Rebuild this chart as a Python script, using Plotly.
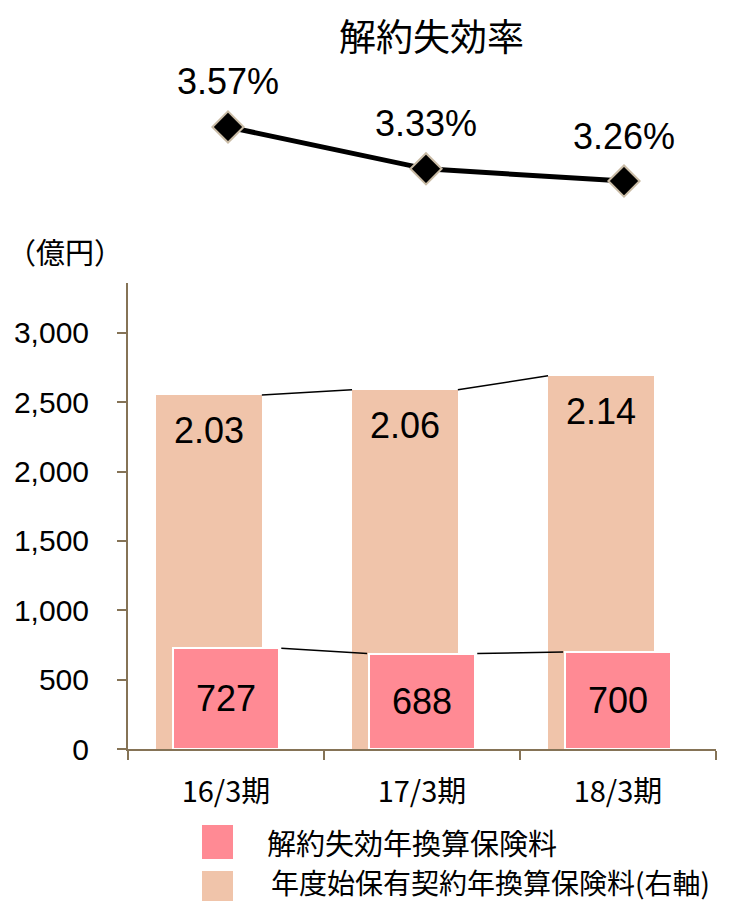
import plotly.graph_objects as go

# ---- data ----
categories = ["16/3期", "17/3期", "18/3期"]
lapse_premium = [727, 688, 700]            # 解約失効年換算保険料 (億円, left axis)
inforce_premium = [2.03, 2.06, 2.14]       # 年度始保有契約年換算保険料 (兆円, right axis)
lapse_rate = [3.57, 3.33, 3.26]            # 解約失効率 (%)
y_ticks = [0, 500, 1000, 1500, 2000, 2500, 3000]
legend_labels = ["解約失効年換算保険料", "年度始保有契約年換算保険料(右軸)"]

PAGE_OFF = 8           # default body margin of the html page
W, H = 738 - PAGE_OFF, 901 - PAGE_OFF
FONT = "Arial, 'Liberation Sans', 'Noto Sans CJK JP', sans-serif"
JFONT = "'Noto Sans CJK JP', Arial, sans-serif"
AXIS_COLOR = "#857356"
PINK = "#FF8A94"
BEIGE = "#F0C4AA"

def fx(px):
    return (px - PAGE_OFF) / W

def fy(py):
    return 1 - (py - PAGE_OFF) / H

xs = list(range(len(categories)))
BAR_W = 0.54
PINK_OFF = -BAR_W / 2
BEIGE_OFF = -BAR_W / 2 - 0.087

fig = go.Figure()

# beige bars (right axis, hidden base axis "y")
fig.add_trace(go.Bar(
    x=xs, y=inforce_premium, width=BAR_W, offset=BEIGE_OFF,
    marker=dict(color=BEIGE, line=dict(width=0)),
    xaxis="x", yaxis="y", showlegend=False, hoverinfo="skip",
))
# pink bars (left axis "y2", drawn above)
fig.add_trace(go.Bar(
    x=xs, y=lapse_premium, width=BAR_W, offset=PINK_OFF,
    marker=dict(color=PINK, line=dict(width=2, color="white")),
    text=[f"{v}" for v in lapse_premium], textposition="inside",
    insidetextanchor="middle",
    textfont=dict(size=36, color="black", family=FONT),
    xaxis="x", yaxis="y2", showlegend=False, hoverinfo="skip",
))

# connector lines between bar tops
for i in range(len(xs) - 1):
    fig.add_trace(go.Scatter(
        x=[xs[i] + BEIGE_OFF + BAR_W, xs[i + 1] + BEIGE_OFF],
        y=[inforce_premium[i], inforce_premium[i + 1]],
        mode="lines", line=dict(color="black", width=1.5),
        xaxis="x", yaxis="y", showlegend=False, hoverinfo="skip",
    ))
    fig.add_trace(go.Scatter(
        x=[xs[i] + PINK_OFF + BAR_W + 0.012, xs[i + 1] + PINK_OFF - 0.01],
        y=[lapse_premium[i], lapse_premium[i + 1]],
        mode="lines", line=dict(color="black", width=1.5),
        xaxis="x", yaxis="y2", showlegend=False, hoverinfo="skip",
    ))

# lapse-rate line
fig.add_trace(go.Scatter(
    x=xs, y=lapse_rate, mode="lines+markers",
    line=dict(color="black", width=5),
    marker=dict(symbol="diamond", size=24, color="black",
                line=dict(color="#C9BBA5", width=2)),
    xaxis="x3", yaxis="y3", showlegend=False, hoverinfo="skip", cliponaxis=False,
))

annotations = []
# beige bar labels
for i, v in enumerate(inforce_premium):
    annotations.append(dict(
        x=xs[i] + BEIGE_OFF + BAR_W / 2, y=v, xref="x", yref="y",
        text=f"{v:.2f}", showarrow=False, yshift=-36,
        font=dict(size=36, color="black", family=FONT),
    ))
# line labels
for i, v in enumerate(lapse_rate):
    annotations.append(dict(
        x=xs[i], y=v, xref="x3", yref="y3",
        text=f"{v:.2f}%", showarrow=False, yshift=45,
        font=dict(size=36, color="black", family=FONT),
    ))
# title
annotations.append(dict(
    x=fx(432), y=fy(35), xref="paper", yref="paper",
    text="解約失効率", showarrow=False, xanchor="center", yanchor="middle",
    font=dict(size=37, color="black", family=JFONT),
))
# unit label
annotations.append(dict(
    x=fx(65), y=fy(251), xref="paper", yref="paper",
    text="（億円）", showarrow=False, xanchor="center", yanchor="middle",
    font=dict(size=29, color="black", family=JFONT),
))
# custom legend
legend_specs = [(legend_labels[0], PINK, 842, 842, 266, 29),
                (legend_labels[1], BEIGE, 888, 882, 270, 28)]
shapes = []
for label, color, ys, yt, xt, fs in legend_specs:
    shapes.append(dict(type="rect", xref="paper", yref="paper",
                       x0=fx(202), x1=fx(233), y0=fy(ys - 17), y1=fy(ys + 17),
                       fillcolor=color, line=dict(width=0)))
    annotations.append(dict(
        x=fx(xt), y=fy(yt), xref="paper", yref="paper",
        text=label, showarrow=False, xanchor="left", yanchor="middle",
        borderpad=0,
        font=dict(size=fs, color="black", family=JFONT),
    ))

Y_MAX = 3360
K = 1257.5  # left-axis units per right-axis unit

fig.update_layout(
    width=W, height=H, autosize=False,
    margin=dict(l=0, r=0, t=0, b=0),
    paper_bgcolor="white", plot_bgcolor="rgba(0,0,0,0)",
    barmode="overlay", bargap=0,
    font=dict(family=FONT, color="black"),
    showlegend=False,
    annotations=annotations, shapes=shapes,
    xaxis=dict(
        domain=[fx(128), fx(716)], range=[-0.5, 2.5],
        tickvals=xs, ticktext=categories, ticks="",
        tickfont=dict(size=29, family=JFONT, color="black"),
        ticklabelstandoff=16,
        showline=True, linecolor=AXIS_COLOR, linewidth=2,
        showgrid=False, zeroline=False, automargin=False,
        minor=dict(tickvals=[-0.5, 0.5, 1.5, 2.5], ticks="outside",
                   ticklen=9, tickcolor=AXIS_COLOR, tickwidth=2),
        anchor="y",
    ),
    yaxis=dict(
        domain=[fy(749), fy(283)], range=[0, Y_MAX / K], visible=False,
        showgrid=False, zeroline=False, anchor="x",
    ),
    yaxis2=dict(
        overlaying="y", side="left", range=[0, Y_MAX],
        tickvals=y_ticks, tickformat=",", ticks="outside", ticklen=9,
        tickcolor=AXIS_COLOR, tickwidth=2,
        tickfont=dict(size=30, family=FONT, color="black"),
        ticklabelstandoff=22,
        showline=True, linecolor=AXIS_COLOR, linewidth=2,
        showgrid=False, zeroline=False, automargin=False,
        anchor="x",
    ),
    xaxis3=dict(
        domain=[fx(129), fx(723)], range=[-0.5, 2.5], visible=False,
        showgrid=False, zeroline=False, anchor="y3",
    ),
    yaxis3=dict(
        domain=[fy(200), fy(100)], range=[3.1514, 3.7243], visible=False,
        showgrid=False, zeroline=False, anchor="x3",
    ),
)

fig.write_html("out.html")
